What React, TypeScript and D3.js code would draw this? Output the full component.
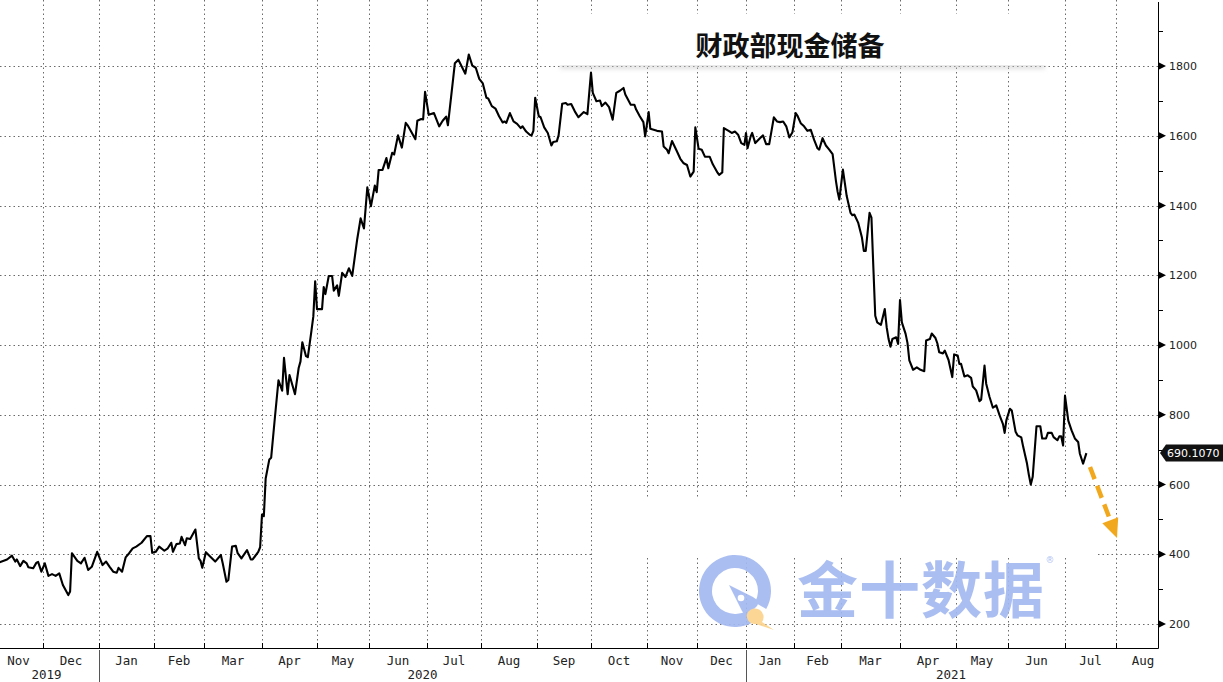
import React from 'react';
import * as d3 from 'd3';

const TITLE = '财政部现金储备';
const WATERMARK = '金十数据';

// Treasury General Account balance (USD bn)
const SERIES: [string, number][] = [
  ['2019-11-04',376],['2019-11-09',385],['2019-11-12',396],['2019-11-14',379],['2019-11-15',385],['2019-11-17',366],['2019-11-19',381],['2019-11-21',374],['2019-11-22',363],['2019-11-25',360],['2019-11-27',376],['2019-11-28',378],['2019-11-30',350],
  ['2019-12-02',374],['2019-12-04',338],['2019-12-06',343],['2019-12-08',338],['2019-12-10',345],['2019-12-12',312],['2019-12-15',283],['2019-12-16',293],['2019-12-17',403],['2019-12-20',381],['2019-12-22',374],['2019-12-24',390],['2019-12-26',355],['2019-12-28',364],['2019-12-31',407],
  ['2020-01-03',369],['2020-01-05',379],['2020-01-07',364],['2020-01-09',350],['2020-01-11',347],['2020-01-12',361],['2020-01-14',350],['2020-01-16',391],['2020-01-18',403],['2020-01-20',417],['2020-01-22',422],['2020-01-25',433],['2020-01-28',452],['2020-01-30',452],['2020-01-31',404],
  ['2020-02-02',407],['2020-02-04',422],['2020-02-07',410],['2020-02-09',417],['2020-02-11',433],['2020-02-12',407],['2020-02-14',429],['2020-02-16',431],['2020-02-17',450],['2020-02-19',426],['2020-02-20',446],['2020-02-22',444],['2020-02-25',471],['2020-02-27',388],['2020-02-28',381],['2020-02-29',361],
  ['2020-03-02',406],['2020-03-04',395],['2020-03-07',379],['2020-03-10',398],['2020-03-11',374],['2020-03-13',321],['2020-03-14',326],['2020-03-16',422],['2020-03-18',424],['2020-03-19',403],['2020-03-21',388],['2020-03-24',412],['2020-03-26',385],['2020-03-27',385],['2020-03-30',407],['2020-03-31',420],
  ['2020-04-01',514],['2020-04-02',509],['2020-04-03',617],['2020-04-05',672],['2020-04-06',677],['2020-04-08',790],['2020-04-10',899],['2020-04-12',869],['2020-04-13',963],['2020-04-15',859],['2020-04-16',914],['2020-04-19',859],['2020-04-21',934],['2020-04-22',953],['2020-04-23',1008],['2020-04-25',968],['2020-04-26',965],['2020-04-28',1042],['2020-04-29',1082],['2020-04-30',1183],
  ['2020-05-01',1103],['2020-05-04',1103],['2020-05-05',1166],['2020-05-06',1146],['2020-05-08',1198],['2020-05-10',1198],['2020-05-11',1156],['2020-05-13',1171],['2020-05-14',1141],['2020-05-16',1207],['2020-05-18',1195],['2020-05-20',1220],['2020-05-22',1198],['2020-05-24',1269],['2020-05-25',1304],['2020-05-27',1363],['2020-05-29',1334],['2020-05-31',1452],
  ['2020-06-02',1398],['2020-06-04',1457],['2020-06-05',1438],['2020-06-06',1502],['2020-06-08',1502],['2020-06-10',1536],['2020-06-11',1507],['2020-06-13',1551],['2020-06-14',1546],['2020-06-16',1601],['2020-06-18',1566],['2020-06-20',1637],['2020-06-21',1630],['2020-06-23',1610],['2020-06-25',1590],['2020-06-26',1643],['2020-06-28',1648],['2020-06-29',1647],['2020-06-30',1726],
  ['2020-07-02',1660],['2020-07-05',1665],['2020-07-08',1627],['2020-07-10',1643],['2020-07-12',1655],['2020-07-13',1630],['2020-07-16',1763],['2020-07-17',1808],['2020-07-19',1818],['2020-07-23',1778],['2020-07-25',1833],['2020-07-27',1801],['2020-07-29',1795],['2020-07-31',1763],
  ['2020-08-02',1750],['2020-08-04',1709],['2020-08-05',1707],['2020-08-07',1685],['2020-08-09',1678],['2020-08-11',1656],['2020-08-13',1638],['2020-08-14',1641],['2020-08-15',1637],['2020-08-17',1665],['2020-08-19',1641],['2020-08-21',1634],['2020-08-23',1622],['2020-08-24',1627],['2020-08-26',1612],['2020-08-28',1603],['2020-08-29',1601],['2020-08-30',1614],['2020-08-31',1709],
  ['2020-09-02',1656],['2020-09-03',1653],['2020-09-05',1624],['2020-09-07',1608],['2020-09-09',1572],['2020-09-10',1582],['2020-09-12',1584],['2020-09-13',1601],['2020-09-15',1692],['2020-09-17',1694],['2020-09-18',1689],['2020-09-20',1691],['2020-09-22',1670],['2020-09-24',1653],['2020-09-27',1668],['2020-09-29',1662],
  ['2020-10-01',1781],['2020-10-02',1723],['2020-10-04',1699],['2020-10-06',1701],['2020-10-07',1685],['2020-10-09',1695],['2020-10-11',1682],['2020-10-13',1646],['2020-10-15',1723],['2020-10-17',1729],['2020-10-19',1737],['2020-10-20',1718],['2020-10-23',1689],['2020-10-25',1689],['2020-10-26',1675],['2020-10-28',1656],['2020-10-30',1639],['2020-10-31',1598],
  ['2020-11-02',1668],['2020-11-03',1620],['2020-11-05',1617],['2020-11-07',1614],['2020-11-10',1612],['2020-11-11',1569],['2020-11-13',1560],['2020-11-14',1550],['2020-11-16',1585],['2020-11-19',1555],['2020-11-21',1534],['2020-11-23',1521],['2020-11-25',1516],['2020-11-27',1483],['2020-11-29',1497],['2020-11-30',1624],
  ['2020-12-02',1563],['2020-12-04',1560],['2020-12-06',1540],['2020-12-09',1540],['2020-12-11',1518],['2020-12-14',1494],['2020-12-15',1488],['2020-12-17',1495],['2020-12-18',1622],['2020-12-21',1614],['2020-12-23',1608],['2020-12-25',1612],['2020-12-27',1603],['2020-12-29',1579],['2020-12-31',1574],
  ['2021-01-01',1608],['2021-01-02',1564],['2021-01-04',1598],['2021-01-05',1608],['2021-01-07',1579],['2021-01-10',1593],['2021-01-12',1601],['2021-01-14',1576],['2021-01-16',1576],['2021-01-19',1653],['2021-01-21',1641],['2021-01-23',1639],['2021-01-25',1641],['2021-01-27',1627],['2021-01-29',1595],['2021-01-31',1610],
  ['2021-02-02',1665],['2021-02-03',1658],['2021-02-05',1636],['2021-02-07',1627],['2021-02-09',1614],['2021-02-11',1617],['2021-02-13',1588],['2021-02-15',1564],['2021-02-16',1560],['2021-02-18',1593],['2021-02-20',1572],['2021-02-22',1560],['2021-02-24',1547],['2021-02-26',1470],['2021-02-27',1439],['2021-02-28',1417],
  ['2021-03-02',1503],['2021-03-03',1465],['2021-03-04',1427],['2021-03-06',1379],['2021-03-07',1372],['2021-03-08',1374],['2021-03-10',1351],['2021-03-12',1308],['2021-03-13',1270],['2021-03-14',1270],['2021-03-16',1379],['2021-03-17',1365],['2021-03-18',1222],['2021-03-19',1084],['2021-03-20',1065],['2021-03-22',1058],['2021-03-24',1103],['2021-03-25',1051],['2021-03-26',1017],['2021-03-27',995],['2021-03-28',1017],['2021-03-30',1022],['2021-03-31',1003],
  ['2021-04-01',1129],['2021-04-02',1065],['2021-04-04',1032],['2021-04-05',1006],['2021-04-06',956],['2021-04-08',929],['2021-04-10',936],['2021-04-12',929],['2021-04-14',925],['2021-04-15',1013],['2021-04-17',1017],['2021-04-18',1033],['2021-04-20',1020],['2021-04-21',1005],['2021-04-22',979],['2021-04-24',976],['2021-04-25',984],['2021-04-27',957],['2021-04-29',908],['2021-04-30',973],
  ['2021-05-02',970],['2021-05-03',946],['2021-05-04',946],['2021-05-06',910],['2021-05-08',913],['2021-05-10',906],['2021-05-11',881],['2021-05-13',870],['2021-05-15',839],['2021-05-16',843],['2021-05-18',941],['2021-05-19',889],['2021-05-21',851],['2021-05-23',820],['2021-05-25',827],['2021-05-27',798],['2021-05-29',773],['2021-05-30',748],['2021-05-31',784],
  ['2021-06-02',817],['2021-06-03',812],['2021-06-05',751],['2021-06-06',741],['2021-06-08',735],['2021-06-09',708],['2021-06-11',660],['2021-06-12',627],['2021-06-13',600],['2021-06-14',622],['2021-06-16',767],['2021-06-18',767],['2021-06-19',732],['2021-06-21',732],['2021-06-22',748],['2021-06-24',748],['2021-06-25',736],['2021-06-27',727],['2021-06-28',738],['2021-06-29',738],['2021-06-30',712],
  ['2021-07-01',855],['2021-07-03',783],['2021-07-05',755],['2021-07-07',732],['2021-07-09',722],['2021-07-10',689],['2021-07-12',660],['2021-07-14',690.107],
];

const LAST_LABEL = '690.1070';

const Y_TICKS = [200, 400, 600, 800, 1000, 1200, 1400, 1600, 1800];
const Y_MINOR = [300, 500, 700, 900, 1100, 1300, 1500, 1700, 1900];

// month boundaries of the (trading-day based) time axis
const MONTH_EDGES = [
  '2019-11-01','2019-12-01','2020-01-01','2020-02-01','2020-03-01','2020-04-01','2020-05-01','2020-06-01',
  '2020-07-01','2020-08-01','2020-09-01','2020-10-01','2020-11-01','2020-12-01','2021-01-01','2021-02-01',
  '2021-03-01','2021-04-01','2021-05-01','2021-06-01','2021-07-01','2021-08-01','2021-09-01',
];
const MONTH_LABELS = ['Nov','Dec','Jan','Feb','Mar','Apr','May','Jun','Jul','Aug','Sep','Oct','Nov','Dec','Jan','Feb','Mar','Apr','May','Jun','Jul','Aug'];
const YEAR_LABELS: [string, string, string][] = [
  ['2019', '2019-11-01', '2020-01-01'],
  ['2020', '2020-01-01', '2021-01-01'],
  ['2021', '2021-01-01', '2021-08-24'],
];

// axis calibration (pixel position of each month boundary)
const MONTH_EDGE_X = [-6, 43, 99, 154, 204, 262, 317, 369, 427, 481, 537, 591, 647, 697, 746, 794, 841, 900, 956, 1008, 1065, 1116, 1170];

export default function App() {
  const W = 1223, H = 682;
  const R = 1158, B = 648;
  const parse = d3.timeParse('%Y-%m-%d');
  const x = d3.scaleTime<number, number>()
    .domain(MONTH_EDGES.map((s) => parse(s) as Date))
    .range(MONTH_EDGE_X);
  const y = d3.scaleLinear().domain([200, 1800]).range([624, 66]);

  const data = SERIES.map(([d, v]) => ({ d: parse(d) as Date, v }));
  const line = d3.line<{ d: Date; v: number }>().x((p) => x(p.d)).y((p) => y(p.v));
  const last = data[data.length - 1];
  const ly = y(last.v);

  const edges = MONTH_EDGES.map((s) => x(parse(s) as Date));
  const gridColor = '#6a6a6a';
  const axisFont = 'DejaVu Sans, sans-serif';
  const monoFont = 'DejaVu Sans Mono, monospace';

  const ring = d3.arc()({
    innerRadius: 23, outerRadius: 36,
    startAngle: (150 * Math.PI) / 180, endAngle: (480 * Math.PI) / 180,
  } as any) as string;

  // annotation arrow
  const a0 = [1090, 467], a1 = [1117, 538];
  const ux = (a1[0] - a0[0]), uy = (a1[1] - a0[1]);
  const len = Math.hypot(ux, uy);
  const u = [ux / len, uy / len], n = [u[1], -u[0]];
  const headL = 19, headW = 8.5;
  const bc = [a1[0] - u[0] * headL, a1[1] - u[1] * headL];

  return (
    <svg width={W} height={H} style={{ position: 'absolute', left: 0, top: 0, background: '#fff' }}>
      <defs>
        <clipPath id="plotclip"><rect x={0} y={0} width={R} height={B} /></clipPath>
        <filter id="blur2" x="-10%" y="-200%" width="120%" height="500%"><feGaussianBlur stdDeviation="2" /></filter>
        <filter id="blur1"><feGaussianBlur stdDeviation="0.6" /></filter>
      </defs>
      <rect x={0} y={0} width={W} height={H} fill="#fff" />

      {/* grid */}
      <g stroke={gridColor} strokeWidth={1} strokeDasharray="1.5,3" clipPath="url(#plotclip)">
        {Y_TICKS.map((t) => (
          <line key={'h' + t} x1={0} x2={R} y1={Math.round(y(t)) + 0.5} y2={Math.round(y(t)) + 0.5} />
        ))}
        {edges.map((ex, i) => (
          <line key={'v' + i} x1={Math.round(ex) + 0.5} x2={Math.round(ex) + 0.5} y1={0} y2={B} />
        ))}
      </g>

      {/* series */}
      <path d={line(data) || ''} fill="none" stroke="#000" strokeWidth={2.1} strokeLinejoin="round" clipPath="url(#plotclip)" />

      {/* title panel */}
      <rect x={560} y={64} width={485} height={5} fill="#c8c8c8" opacity={0.55} filter="url(#blur2)" />
      <rect x={553} y={14} width={508} height={51} fill="#fff" />
      <text x={790} y={56} textAnchor="middle" fontFamily="'Noto Sans CJK SC', sans-serif" fontWeight={700} fontSize={27} fill="#111">{TITLE}</text>

      {/* watermark panel */}
      <rect x={592} y={498} width={505} height={60} fill="#fff" />
      <g opacity={0.92}>
        <path d={ring} transform="translate(735,591)" fill="#a4b9f0" />
        <path d="M729,585 L753,597 Q760,601 757,606 L749,614 Q745,616 742,611 Z" fill="#a4b9f0" />
        <circle cx={741} cy={598} r={3.3} fill="#fff" />
        <path d="M748,612 A8,8 0 1 1 762,622 L774,630 L756,624 A8,8 0 0 1 748,612 Z" fill="#fbd38d" />
        <text x={921} y={613} textAnchor="middle" fontFamily="'Noto Sans CJK SC', sans-serif" fontWeight={700} fontSize={61} letterSpacing={1} fill="#a4b9f0">{WATERMARK}</text>
        <text x={1050} y={563} textAnchor="middle" fontFamily={axisFont} fontSize={9} fill="#a4b9f0">®</text>
      </g>

      {/* axes */}
      <line x1={0} x2={R + 0.5} y1={B + 0.5} y2={B + 0.5} stroke="#000" strokeWidth={1} />
      <line x1={R + 0.5} x2={R + 0.5} y1={2} y2={B + 0.5} stroke="#000" strokeWidth={1} />
      {edges.filter((ex) => ex >= 0 && ex <= R).map((ex, i) => (
        <line key={'bt' + i} x1={Math.round(ex) + 0.5} x2={Math.round(ex) + 0.5} y1={B - 5} y2={B} stroke="#000" />
      ))}
      {Y_TICKS.map((t) => {
        const ty = y(t);
        return (
          <g key={'yt' + t}>
            <path d={`M${R + 1},${ty - 3.5}L${R + 1},${ty + 3.5}L${R + 8},${ty}Z`} fill="#000" />
            <text x={R + 11} y={ty + 4} fontFamily={axisFont} fontSize={11} fill="#222">{t}</text>
          </g>
        );
      })}
      {Y_MINOR.map((t) => (
        <line key={'ym' + t} x1={R} x2={R + 5} y1={Math.round(y(t)) + 0.5} y2={Math.round(y(t)) + 0.5} stroke="#000" />
      ))}

      {MONTH_LABELS.map((m, i) => (
        <text key={'ml' + i} x={(edges[i] + edges[i + 1]) / 2} y={665} textAnchor="middle" fontFamily={monoFont} fontSize={12.5} fill="#222">{m}</text>
      ))}
      {YEAR_LABELS.map(([label, s, e]) => {
        const xs = x(parse(s) as Date), xe = x(parse(e) as Date);
        return (
          <text key={label} x={(xs + xe) / 2} y={679} textAnchor="middle" fontFamily={monoFont} fontSize={12.5} fill="#222">{label}</text>
        );
      })}
      {YEAR_LABELS.slice(1).map(([label, s]) => {
        const xs = Math.round(x(parse(s) as Date)) + 0.5;
        return <line key={'ys' + label} x1={xs} x2={xs} y1={B + 2} y2={H} stroke="#555" />;
      })}

      {/* last value tag */}
      <path d={`M${R + 2},${ly}L${R + 8},${ly - 8.5}L${W},${ly - 8.5}L${W},${ly + 8.5}L${R + 8},${ly + 8.5}Z`} fill="#111" />
      <text x={R + 9} y={ly + 4} fontFamily={axisFont} fontSize={11} fill="#fff">{LAST_LABEL}</text>

      {/* arrow annotation */}
      <g filter="url(#blur1)">
        <line x1={a0[0]} y1={a0[1]} x2={bc[0] + u[0] * 2} y2={bc[1] + u[1] * 2} stroke="#f2a81d" strokeWidth={4.5} strokeDasharray="13,7" />
        <path d={`M${a1[0]},${a1[1]}L${bc[0] + n[0] * headW},${bc[1] + n[1] * headW}L${bc[0] - n[0] * headW},${bc[1] - n[1] * headW}Z`} fill="#f2a81d" />
      </g>
    </svg>
  );
}
